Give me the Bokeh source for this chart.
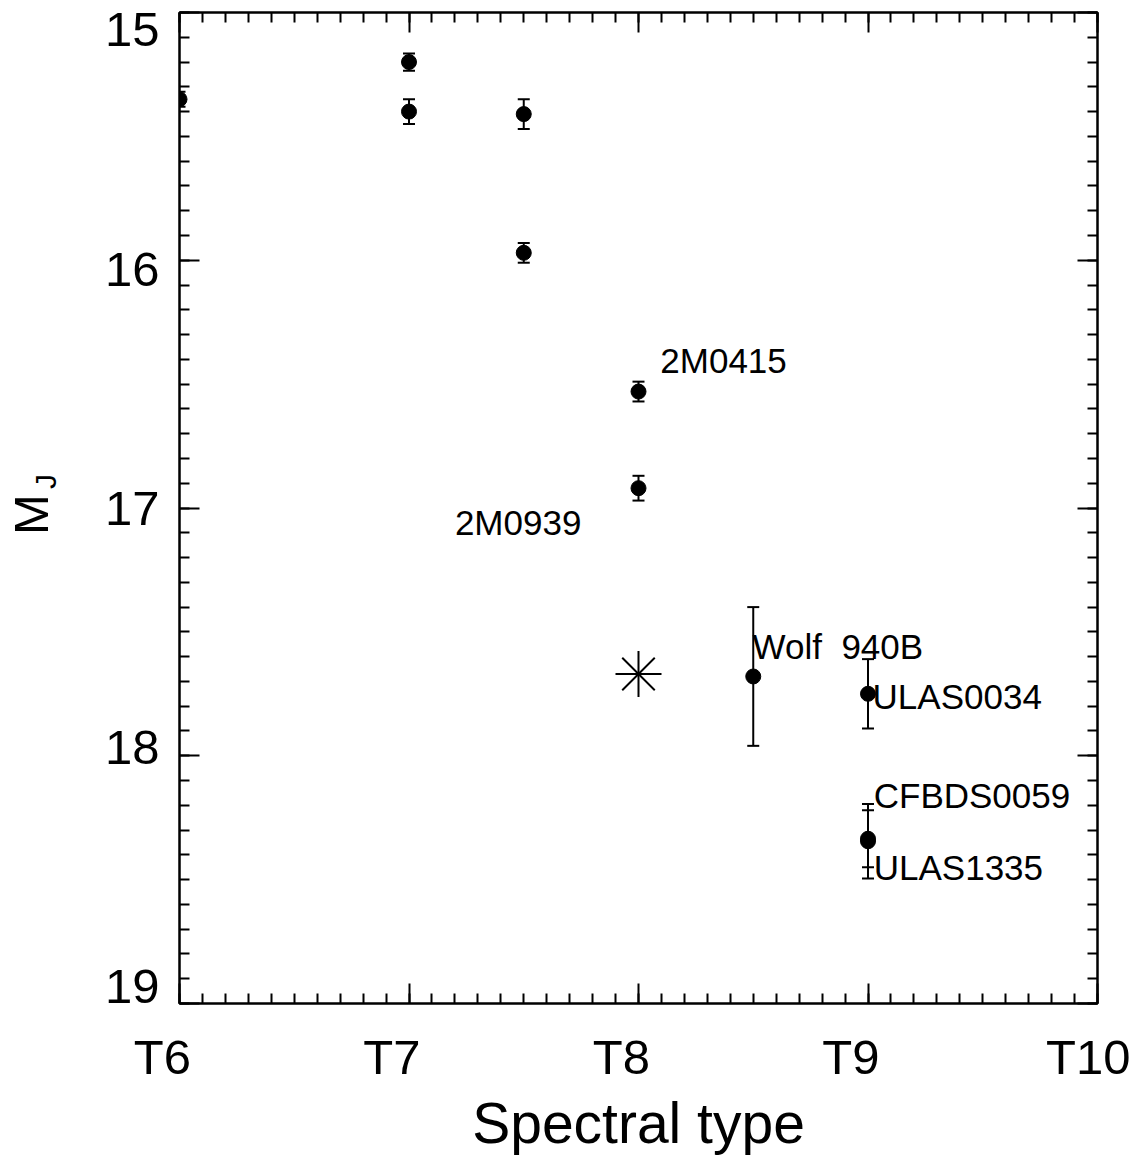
from bokeh.plotting import figure
from bokeh.models import (Range1d, LinearAxis, SingleIntervalTicker, FixedTicker, Whisker,
                          TeeHead, ColumnDataSource, CustomJSTickFormatter)
from bokeh.core.properties import value
from bokeh.embed import file_html
from bokeh.resources import INLINE

FONT = "Liberation Sans"

# Late-T dwarfs: spectral type (T6 = 6), absolute J magnitude and 1-sigma error
spt = [6.0, 7.0, 7.0, 7.5, 7.5, 8.0, 8.0, 8.5, 9.0, 9.0, 9.0]
mj = [15.35, 15.20, 15.40, 15.41, 15.97, 16.53, 16.92, 17.68, 17.75, 18.335, 18.345]
mj_err = [0.03, 0.035, 0.05, 0.06, 0.04, 0.04, 0.05, 0.28, 0.14, 0.115, 0.15]

# The new object, drawn as an asterisk
new_spt = [8.0]
new_mj = [17.67]

# Object names and the centre-left point of each name (data coordinates)
names = ["2M0415", "2M0939", "Wolf\u00a0\u00a0940B", "ULAS0034", "CFBDS0059", "ULAS1335"]
name_x = [8.095, 7.20, 8.497, 9.02, 9.025, 9.025]
name_y = [16.405, 17.057, 17.561, 17.761, 18.159, 18.450]

x_ticks = [6, 7, 8, 9, 10]
x_tick_labels = ["T6", "T7", "T8", "T9", "T10"]
y_ticks = [15, 16, 17, 18, 19]
y_tick_labels = ["15", "16", "17", "18", "19"]

p = figure(width=1130, height=1158, output_backend="svg", toolbar_location=None,
           x_range=Range1d(6, 10), y_range=Range1d(19, 15),
           min_border_left=177, min_border_right=33, min_border_top=12,
           min_border_bottom=155, background_fill_color="white",
           border_fill_color="white", outline_line_color="black", outline_line_width=2)
p.xgrid.visible = False
p.ygrid.visible = False
p.xaxis.visible = False
p.yaxis.visible = False

# helper ranges used only to place label text a few pixels away from the ticks
p.extra_y_ranges = {"ylab": Range1d(19.069, 14.927),
                    "px": Range1d(991, 0)}

blank = CustomJSTickFormatter(code="return ''")

# trailing spacing that sets the spectral-type labels slightly left of their ticks
# (the last label already sits against the right edge of the page)
XPAD = ["\u2002\u2009"] * (len(x_tick_labels) - 1) + [""]


def tick_axis(**kw):
    return LinearAxis(ticker=SingleIntervalTicker(interval=1, num_minor_ticks=10),
                      formatter=blank, axis_line_width=2, axis_line_color="black",
                      major_tick_in=20, major_tick_out=0, minor_tick_in=10, minor_tick_out=0,
                      major_tick_line_width=2, minor_tick_line_width=2,
                      major_label_standoff=0, **kw)


def label_axis(ticks, labels, size, standoff, **kw):
    return LinearAxis(ticker=FixedTicker(ticks=ticks, minor_ticks=[]),
                      major_label_overrides=dict(zip(ticks, labels)),
                      axis_line_color=None, major_tick_line_color=None,
                      minor_tick_line_color=None, major_tick_in=0, major_tick_out=0,
                      minor_tick_in=0, minor_tick_out=0,
                      major_label_text_font=FONT, major_label_text_font_size=size,
                      major_label_text_color="black", major_label_standoff=standoff, **kw)


# frame ticks on all four sides
p.add_layout(tick_axis(), "left")
p.add_layout(tick_axis(), "right")
p.add_layout(tick_axis(), "above")
p.add_layout(tick_axis(), "below")

# tick labels and axis titles
p.add_layout(label_axis(x_ticks, [t + pad for t, pad in zip(x_tick_labels, XPAD)], "49px", 26,
                        axis_label="Spectral type",
                        axis_label_text_font=FONT, axis_label_text_font_size="57px",
                        axis_label_text_font_style="normal", axis_label_text_color="black",
                        axis_label_standoff=4), "below")
p.add_layout(label_axis(y_ticks, y_tick_labels, "49px", 20, y_range_name="ylab"), "left")
p.add_layout(label_axis([469], ["J"], "30px", 40, y_range_name="px",
                        major_label_orientation="vertical"), "left")
p.add_layout(label_axis([502], ["M"], "49px", -32, y_range_name="px",
                        major_label_orientation="vertical"), "left")

# error bars
src = ColumnDataSource(dict(x=spt, y=mj,
                            lo=[m - e for m, e in zip(mj, mj_err)],
                            hi=[m + e for m, e in zip(mj, mj_err)]))
p.add_layout(Whisker(source=src, base="x", lower="lo", upper="hi", dimension="height",
                     line_width=2, line_color="black",
                     lower_head=TeeHead(size=12, line_width=2, line_color="black"),
                     upper_head=TeeHead(size=12, line_width=2, line_color="black")))
p.scatter("x", "y", source=src, marker="circle", size=15,
          fill_color="black", line_color="black")

# the new object
p.scatter(new_spt, new_mj, marker="cross", size=46, line_color="black", line_width=2)
p.scatter(new_spt, new_mj, marker="x", size=46, line_color="black", line_width=2)

# object names
p.text(x=name_x, y=name_y, text=names, text_font=value(FONT), text_font_size="35px",
       text_color="black", text_align="left", text_baseline="middle")

open("out.html", "w").write(file_html(p, INLINE))
